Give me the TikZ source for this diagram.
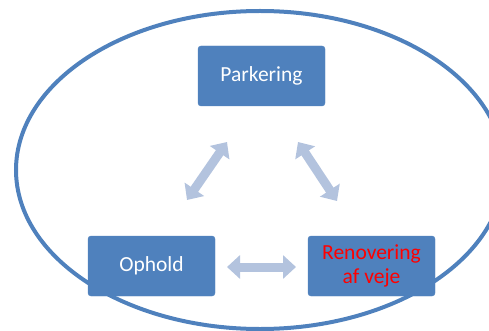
\documentclass[tikz,border=0pt]{standalone}
\usepackage{fontspec}
\setmainfont{Carlito}
\usetikzlibrary{arrows.meta}
\definecolor{boxblue}{HTML}{4F81BD}
\definecolor{arrowblue}{HTML}{B3C3DE}
\definecolor{txtred}{HTML}{FF0000}
\tikzset{
  box/.style={draw=boxblue, fill=boxblue, rounded corners=3pt, minimum width=127pt, minimum height=60pt, inner sep=0pt, text=white, font=\fontsize{21.5}{24}\selectfont, align=center},
  fatarrow/.style={draw=arrowblue, line width=9pt, {Triangle[width=23pt,length=13pt]}-{Triangle[width=23pt,length=13pt]}}
}
\begin{document}
\begin{tikzpicture}[x=1pt,y=-1pt]
\useasboundingbox (0,0) rectangle (489,331);
\clip (0,0) rectangle (489,331);
\draw[boxblue, line width=4pt] (260,170) ellipse [x radius=244, y radius=159];
\node[box] (park) at (261.5,76) {Parkering};
\node[box] (oph) at (151.5,266) {Ophold};
\node[box, text=txtred] (ren) at (371.5,266) {Renovering\\af veje};
\coordinate (l1) at (187,200);
\coordinate (l2) at (227,142);
\coordinate (r1) at (298,142);
\coordinate (r2) at (337,201);
\coordinate (b1) at (227,267);
\coordinate (b2) at (296,267);
\draw[fatarrow] (l1) -- (l2);
\draw[fatarrow] (r1) -- (r2);
\draw[fatarrow] (b1) -- (b2);
\end{tikzpicture}
\end{document}
